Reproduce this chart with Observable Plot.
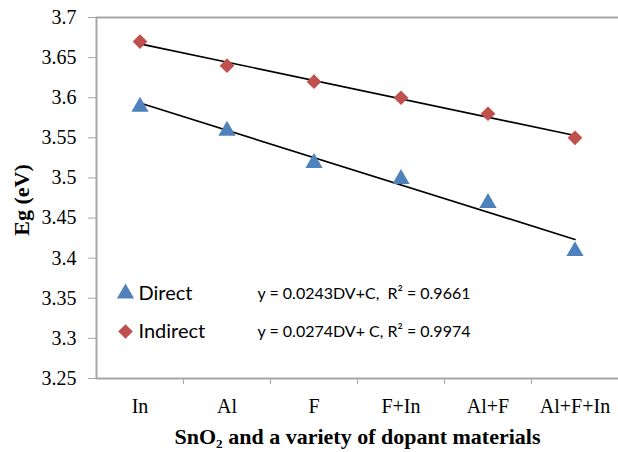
<!DOCTYPE html>
<html><head><meta charset="utf-8">
<script src="https://cdn.jsdelivr.net/npm/d3@7"></script>
<script src="https://cdn.jsdelivr.net/npm/@observablehq/plot@0.6"></script>
<style>
body{margin:0;background:#fff;}
#chart{position:relative;width:618px;height:452px;}
#chart svg g[aria-label="y-axis tick label"], #chart svg g[aria-label="y-axis tick label"] text{font-family:'Liberation Serif',serif !important;font-variant:normal !important;}
</style>
</head><body><div id="chart"></div>
<script>
const categories = ["In", "Al", "F", "F+In", "Al+F", "Al+F+In"];
const direct = [3.59, 3.56, 3.52, 3.50, 3.47, 3.41];
const indirect = [3.67, 3.64, 3.62, 3.60, 3.58, 3.55];
const yTicks = [3.25, 3.3, 3.35, 3.4, 3.45, 3.5, 3.55, 3.6, 3.65, 3.7];
const seriesNames = ["Direct", "Indirect"];
const equations = ["y = 0.0243DV+C,  R\u00B2 = 0.9661", "y = 0.0274DV+ C, R\u00B2 = 0.9974"];

const colors = {Direct: "#4F81BD", Indirect: "#C0504D"};
const symbols = {Direct: "triangle", Indirect: "diamond2"};
const sizes = {Direct: 6.4, Indirect: 6.6};
const data = [];
categories.forEach((c, i) => {
  data.push({i: i + 1, cat: c, series: "Direct", v: direct[i]});
  data.push({i: i + 1, cat: c, series: "Indirect", v: indirect[i]});
});
const boundaries = categories.slice(1).map((_, i) => i + 1.5);

const grey = "#a6a6a6";
const serif = "Liberation Serif";
const sans = "Lato";

const legendMarks = seriesNames.flatMap((s, k) => {
  const dy = k === 0 ? -85 : -47;
  return [
    Plot.dot([s], {frameAnchor: "bottom-left", dx: 29, dy, symbol: symbols[s], fill: colors[s], r: sizes[s]}),
    Plot.text([s], {frameAnchor: "bottom-left", dx: 42, dy, text: d => d, textAnchor: "start", lineAnchor: "middle", fontSize: 20, fontFamily: sans}),
    Plot.text([equations[k]], {frameAnchor: "bottom-left", dx: 161, dy, text: d => d, textAnchor: "start", lineAnchor: "middle", fontSize: 16, fontFamily: sans})
  ];
});

const plot = Plot.plot({
  width: 618, height: 452,
  marginLeft: 96, marginRight: 0, marginTop: 17, marginBottom: 74,
  style: {fontFamily: serif, fontSize: "20px", color: "#000", background: "#fff"},
  x: {type: "linear", domain: [0.5, categories.length + 0.5]},
  y: {domain: [3.25, 3.7]},
  marks: [
    Plot.ruleY([3.25, 3.7], {stroke: grey, strokeWidth: 2}),
    Plot.ruleX([0.5], {stroke: grey, strokeWidth: 2}),
    Plot.axisY({ticks: yTicks, tickFormat: d => String(+d.toFixed(2)), tickSize: 8, tickPadding: 12,
      stroke: grey, fontSize: 20, fontFamily: serif, fontVariant: "normal", label: null}),
    Plot.text(["Eg (eV)"], {frameAnchor: "left", dx: -75, dy: 2, rotate: -90, textAnchor: "middle", lineAnchor: "middle",
      fontWeight: "bold", fontSize: 22, fontFamily: serif, text: d => d}),
    Plot.axisX({ticks: boundaries, tickFormat: () => "", tickSize: 6, stroke: grey, label: null}),
    Plot.axisX({ticks: categories.map((_, i) => i + 1), tickFormat: i => categories[i - 1], tickSize: 0,
      tickPadding: 20, fontSize: 20, fontFamily: serif, label: null}),
    Plot.text(["SnO\u2082 and a variety of dopant materials"], {frameAnchor: "bottom", dy: 58, lineAnchor: "middle",
      fontWeight: "bold", fontSize: 22, fontFamily: serif, text: d => d}),
    Plot.linearRegressionY(data, {x: "i", y: "v", z: "series", ci: 0, stroke: "#000", strokeWidth: 1.6}),
    Plot.dot(data.filter(d => d.series === "Direct"), {x: "i", y: "v", symbol: symbols.Direct, r: sizes.Direct, fill: colors.Direct, dy: 1}),
    Plot.dot(data.filter(d => d.series === "Indirect"), {x: "i", y: "v", symbol: symbols.Indirect, r: sizes.Indirect, fill: colors.Indirect}),
    ...legendMarks
  ]
});
document.getElementById("chart").appendChild(plot);
</script>
</body></html>
